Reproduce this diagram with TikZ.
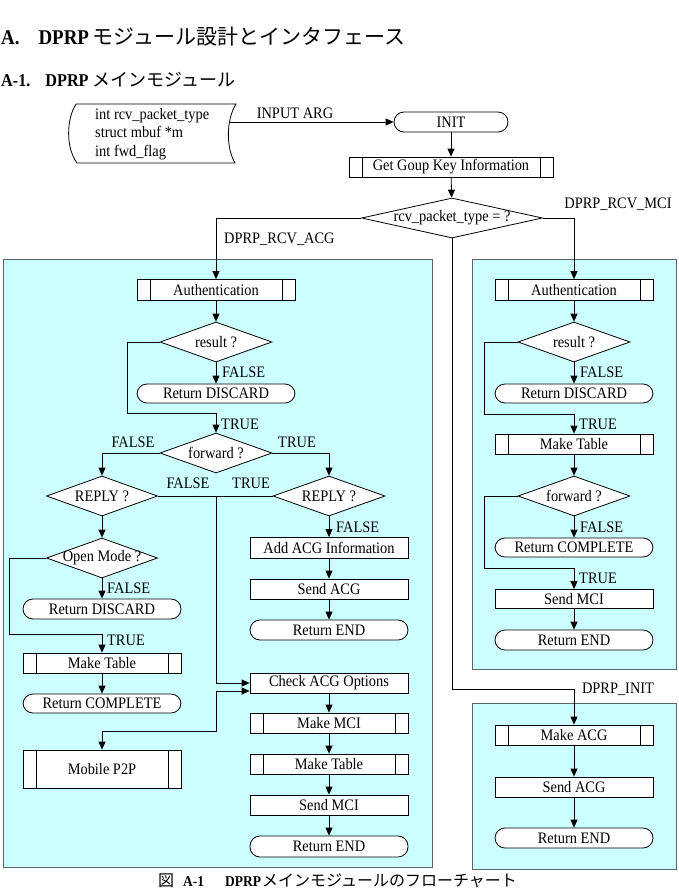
\documentclass[tikz,border=0pt]{standalone}
\usepackage{fontspec}
\setmainfont{Liberation Serif}[FakeStretch=0.9]
\newfontfamily\jp{Noto Sans CJK JP}
\usetikzlibrary{shapes.geometric,arrows.meta}
\definecolor{panelfill}{RGB}{204,255,255}
\definecolor{panelline}{RGB}{90,100,100}
\tikzset{
  box/.style={draw, rectangle, minimum width=158pt, minimum height=20pt, inner sep=0pt, fill=white, line width=0.8pt},
  pred/.style={box, path picture={
      \draw[line width=0.8pt] ([xshift=13pt]path picture bounding box.north west) -- ([xshift=13pt]path picture bounding box.south west);
      \draw[line width=0.8pt] ([xshift=-13pt]path picture bounding box.north east) -- ([xshift=-13pt]path picture bounding box.south east);}},
  term/.style={box, rounded corners=10pt},
  dec/.style={draw, diamond, fill=white, minimum width=112pt, minimum height=40pt, inner sep=0pt, line width=0.8pt},
  lbl/.style={inner sep=0pt},
  arr/.style={draw, line width=0.8pt, -{Triangle[length=8pt,width=7pt]}},
  biarr/.style={draw, line width=0.8pt, {Triangle[length=8pt,width=7pt]}-{Triangle[length=8pt,width=7pt]}},
  panel/.style={fill=panelfill, draw=panelline, line width=1pt}
}
\newcommand{\dz}[1]{\makebox[0pt]{#1}}
\begin{document}
\begin{tikzpicture}[x=1pt,y=-1pt,font=\fontsize{16}{18.5}\selectfont]
\useasboundingbox (0,0) rectangle (678,894);
\fill[white] (0,0) rectangle (678,894);

% titles
\node[anchor=base west, inner sep=0pt, font=\fontsize{21}{21}\selectfont\bfseries] (title) at (1,44)
  {A.\hspace{19pt}DPRP\hspace{4pt}{\jp\mdseries\fontsize{21}{21}\selectfont モジュール設計とインタフェース}};
\node[anchor=base west, inner sep=0pt, font=\fontsize{18}{18}\selectfont\bfseries] (subtitle) at (1,86)
  {A-1.\hspace{15pt}DPRP\hspace{4pt}{\jp\mdseries\fontsize{18}{18}\selectfont メインモジュール}};
\node[anchor=base west, inner sep=0pt, font=\fontsize{15}{15}\selectfont\bfseries] (caption) at (158,886)
  {{\jp\mdseries\fontsize{16}{16}\selectfont 図}\hspace{9pt}A-1\hspace{21pt}DPRP\hspace{1pt}{\jp\mdseries\fontsize{16}{16}\selectfont メインモジュールのフローチャート}};

% panels
\draw[panel] (3,259) rectangle (432,867);
\draw[panel] (472,259) rectangle (676,669);
\draw[panel] (472,703) rectangle (676,869);

% input shape
\draw[line width=0.8pt, fill=white] (76,104) -- (236,104) .. controls (226,120) and (226,148) .. (235,163)
  -- (77,163) .. controls (66,148) and (66,120) .. (76,104) -- cycle;
\node[align=left, anchor=west, inner sep=0pt] (inp) at (95,134) {int rcv\_packet\_type\\struct mbuf *m\\int fwd\_flag};
\coordinate (inpR) at (229.5,122);

% top nodes
\node[term, minimum width=114pt] (init) at (451,122) {INIT};
\node[pred, minimum width=204pt] (getkey) at (451,167) {Get Goup Key Information};
\node[dec, minimum width=181pt] (type) at (452,218) {\dz{rcv\_packet\_type = ?}};

% left panel
\node[pred, minimum height=21pt] (auth1) at (216,290) {Authentication};
\node[dec] (res1) at (216,342) {\dz{result ?}};
\node[term, minimum height=19pt] (disc1) at (216,393.5) {Return DISCARD};
\node[dec] (fwd1) at (216,453) {\dz{forward ?}};
\node[dec, minimum width=111pt] (repL) at (102,496) {\dz{REPLY ?}};
\node[dec] (repR) at (329,496) {\dz{REPLY ?}};
\node[box, minimum height=21pt] (addacg) at (329,548) {Add ACG Information};
\node[box] (sendacg1) at (329,589) {Send ACG};
\node[term] (end1) at (329,630) {Return END};
\node[dec, minimum width=111pt] (open) at (102,558) {\dz{Open Mode ?}};
\node[term] (disc2) at (102,609) {Return DISCARD};
\node[pred] (maketab1) at (102,663) {Make Table};
\node[term, minimum height=19pt] (comp1) at (102,703.5) {Return COMPLETE};
\node[pred, minimum height=38pt] (p2p) at (102,769) {Mobile P2P};
\node[box] (check) at (329,683) {Check ACG Options};
\node[pred] (makemci) at (329,723) {Make MCI};
\node[pred] (maketab2) at (329,764) {Make Table};
\node[box] (sendmci1) at (329,805) {Send MCI};
\node[term, minimum height=21pt] (end2) at (329,846.5) {Return END};

% right panel 1
\node[pred, minimum height=21pt] (auth2) at (574,290) {Authentication};
\node[dec] (res2) at (574,342) {\dz{result ?}};
\node[term, minimum height=19pt] (disc3) at (574,393.5) {Return DISCARD};
\node[pred] (maketab3) at (574,444) {Make Table};
\node[dec] (fwd2) at (574,496) {\dz{forward ?}};
\node[term, minimum height=19pt] (comp2) at (574,547.5) {Return COMPLETE};
\node[box, minimum height=19pt] (sendmci2) at (574,599) {Send MCI};
\node[term] (end3) at (574,640) {Return END};

% right panel 2
\node[pred] (makeacg) at (574,735) {Make ACG};
\node[box] (sendacg2) at (574,787) {Send ACG};
\node[term] (end4) at (574,838) {Return END};

% labels
\node[lbl] (lInput) at (295,113) {INPUT ARG};
\node[lbl, anchor=west] (lAcg) at (224,239) {DPRP\_RCV\_ACG};
\node[lbl] (lMci) at (618,204) {DPRP\_RCV\_MCI};
\node[lbl] (lInit) at (618,689) {DPRP\_INIT};
\node[lbl, anchor=west] (f1) at (222,372) {FALSE};
\node[lbl, anchor=west] (t1) at (221,424) {TRUE};
\node[lbl] (f2) at (133,442) {FALSE};
\node[lbl] (t2) at (297,442) {TRUE};
\node[lbl] (f3) at (188,483) {FALSE};
\node[lbl] (t3) at (251,483) {TRUE};
\node[lbl, anchor=west] (f4) at (336,527) {FALSE};
\node[lbl, anchor=west] (f5) at (107,588) {FALSE};
\node[lbl, anchor=west] (t5) at (107,640) {TRUE};
\node[lbl, anchor=west] (f6) at (580,372) {FALSE};
\node[lbl, anchor=west] (t6) at (579,424) {TRUE};
\node[lbl, anchor=west] (f7) at (580,527) {FALSE};
\node[lbl, anchor=west] (t7) at (579,578) {TRUE};

% coordinates for bends
\coordinate (jInit) at (452,689);
\coordinate (l1) at (127,413);
\coordinate (jc) at (216,496);
\coordinate (j2) at (216,731);
\coordinate (j3) at (216,691);
\coordinate (l2) at (9,634);
\coordinate (r1) at (484,414);
\coordinate (r2) at (484,568);

% connectors top
\draw[arr] (inpR) -- (init.west);
\draw[arr] (init) -- (getkey);
\draw[arr] (getkey) -- (type);
\draw[arr] (type.west) -| (auth1.north);
\draw[arr] (type.east) -| (auth2.north);
\draw[arr] (type.south) -- (jInit) -| (makeacg.north);

% left panel connectors
\draw[arr] (auth1) -- (res1);
\draw[arr] (res1) -- (disc1);
\draw[arr] (res1.west) -| (l1) -| (fwd1.north);
\draw[arr] (fwd1.west) -| (repL.north);
\draw[arr] (fwd1.east) -| (repR.north);
\draw[line width=0.8pt] (repR.west) -- (jc);
\draw[arr] (repL.east) -- (jc) |- (check.west);
\draw[biarr] (p2p.north) |- (j2) -- (j3) -- (check.west |- j3);
\draw[arr] (repR) -- (addacg);
\draw[arr] (addacg) -- (sendacg1);
\draw[arr] (sendacg1) -- (end1);
\draw[arr] (repL) -- (open);
\draw[arr] (open) -- (disc2);
\draw[arr] (open.west) -| (l2) -| (maketab1.north);
\draw[arr] (maketab1) -- (comp1);
\draw[arr] (check) -- (makemci);
\draw[arr] (makemci) -- (maketab2);
\draw[arr] (maketab2) -- (sendmci1);
\draw[arr] (sendmci1) -- (end2);

% right panel connectors
\draw[arr] (auth2) -- (res2);
\draw[arr] (res2) -- (disc3);
\draw[arr] (res2.west) -| (r1) -| (maketab3.north);
\draw[arr] (maketab3) -- (fwd2);
\draw[arr] (fwd2) -- (comp2);
\draw[arr] (fwd2.west) -| (r2) -| (sendmci2.north);
\draw[arr] (sendmci2) -- (end3);
\draw[arr] (makeacg) -- (sendacg2);
\draw[arr] (sendacg2) -- (end4);
\end{tikzpicture}
\end{document}
